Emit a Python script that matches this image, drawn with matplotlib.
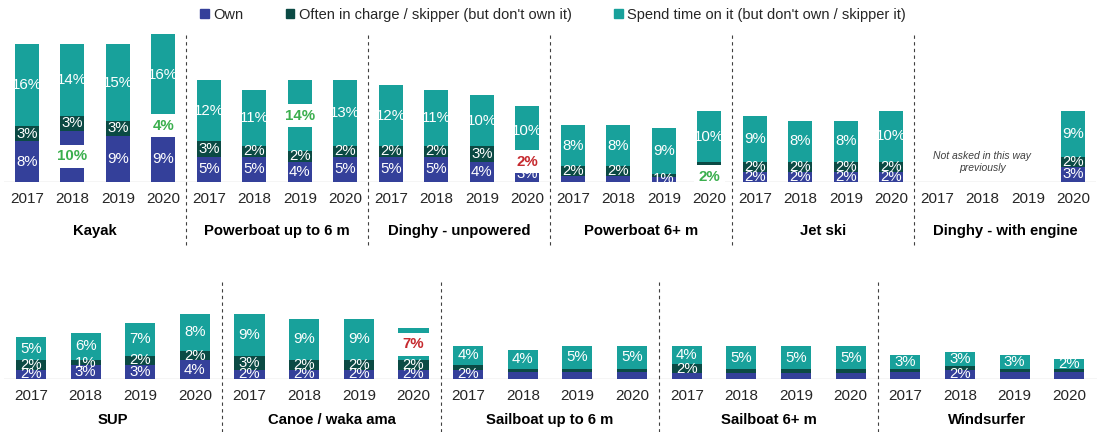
import matplotlib
matplotlib.use("Agg")
import matplotlib.pyplot as plt
from matplotlib.patches import Patch
import numpy as np

plt.rcParams["font.family"] = ["Liberation Sans", "DejaVu Sans"]

years = ["2017", "2018", "2019", "2020"]
series_names = ["Own", "Often in charge / skipper (but don't own it)",
                "Spend time on it (but don't own / skipper it)"]

# top row
top_groups = ["Kayak", "Powerboat up to 6 m", "Dinghy - unpowered",
              "Powerboat 6+ m", "Jet ski", "Dinghy - with engine"]
nan = np.nan
top_own = [8, 10, 9, 9, 5, 5, 4, 5, 5, 5, 4, 3, 1.1, 1.1, 1, 2, 2, 2, 2, 2, nan, nan, nan, 3]
top_often = [3, 3, 3, 4, 3, 2, 2, 2, 2, 2, 3, 2, 2, 2, 0.6, 1.9, 2, 2, 2, 2, nan, nan, nan, 2]
top_spend = [16, 14, 15, 16, 12, 11, 14, 13, 12, 11, 10, 10, 8, 8, 9, 10, 9, 8, 8, 10, nan, nan, nan, 9]

# bottom row
bot_groups = ["SUP", "Canoe / waka ama", "Sailboat up to 6 m", "Sailboat 6+ m", "Windsurfer"]
bot_own = [2, 3, 3, 4, 2, 2, 2, 2, 2, 1.6, 1.6, 1.6, 1.2, 1.2, 1.2, 1.2, 1.6, 2, 1.6, 1.6]
bot_often = [2, 1, 2, 2, 3, 2, 2, 2, 1.1, 0.6, 0.6, 0.6, 2, 0.9, 0.9, 0.9, 0.6, 0.9, 0.6, 0.6]
bot_spend = [5, 6, 7, 8, 9, 9, 9, 7, 4, 4, 5, 5, 4, 5, 5, 5, 3, 3, 3, 2]

# highlighted labels: (bar index, series index, colour)
GREEN = "#3BAF4E"
RED = "#C62A2F"
top_highlights = [(1, 0, GREEN), (3, 1, GREEN), (6, 2, GREEN), (11, 1, RED), (15, 0, GREEN)]
bot_highlights = [(7, 2, RED)]

colors = ["#34409A", "#0B4A44", "#18A19B"]


def draw_row(ax, groups, own, often, spend, highlights, width, name_offset):
    n = len(own)
    x = np.arange(n)
    own = np.array(own, float)
    often = np.array(often, float)
    spend = np.array(spend, float)
    bottoms = [np.zeros(n), own, own + often]
    hl = {(i, s): c for i, s, c in highlights}
    for s, vals in enumerate([own, often, spend]):
        ax.bar(x, vals, width, bottom=bottoms[s], color=colors[s], zorder=2)
        for i in range(n):
            v = vals[i]
            if np.isnan(v):
                continue
            yc = bottoms[s][i] + v / 2
            if (i, s) in hl:
                ax.text(i, yc, f"{v:.0f}%", ha="center", va="center", fontsize=10.8,
                        fontweight="bold", color=hl[(i, s)], zorder=5,
                        bbox=dict(boxstyle="square,pad=0.3", fc="white", ec="none"))
            elif v == round(v):
                ax.text(i, yc, f"{v:.0f}%", ha="center", va="center", fontsize=10.8,
                        color="white", zorder=3)
    ax.set_xlim(-0.5, n - 0.5)
    ax.set_xticks(x)
    ax.set_xticklabels(years * len(groups), fontsize=11, color="#262626")
    ax.tick_params(axis="x", length=0, pad=7.5)
    ax.set_yticks([])
    for sp in ax.spines.values():
        sp.set_visible(False)
    ax.axhline(0, color="#D0D0D0", lw=1, zorder=1)
    for g, name in enumerate(groups):
        ax.annotate(name, xy=(4 * g + 1.5, 0), xytext=(0, name_offset),
                    textcoords="offset points", ha="center", va="center",
                    fontsize=10.7, fontweight="bold", color="black")


fig = plt.figure(figsize=(10.97, 4.32), dpi=100)

# top row: baseline at 182 px, top at 32 px
ax1 = fig.add_axes([4 / 1097, 1 - 182 / 432, 1092 / 1097, 150 / 432])
draw_row(ax1, top_groups, top_own, top_often, top_spend, top_highlights, 0.53, -35)
ax1.set_ylim(0, 150 / 5.1)
for g in range(1, len(top_groups)):
    ax1.axvline(4 * g - 0.5, ymin=-0.42, ymax=1.0, color="#404040", lw=0.8,
                ls=(0, (3, 3)), clip_on=False)
ax1.text(21, 3.9, "Not asked in this way\npreviously", ha="center", va="center",
         fontsize=7.5, style="italic", color="#404040", linespacing=1.2)

# bottom row: baseline at 379 px, top at 280 px
ax2 = fig.add_axes([3.6 / 1097, 1 - 379 / 432, 1093 / 1097, 99 / 432])
draw_row(ax2, bot_groups, bot_own, bot_often, bot_spend, bot_highlights, 0.55, -29.5)
ax2.set_ylim(0, 99 / 4.65)
for g in range(1, len(bot_groups)):
    ax2.axvline(4 * g - 0.5, ymin=-0.54, ymax=1.0, color="#404040", lw=0.8,
                ls=(0, (3, 3)), clip_on=False)

handles = [Patch(color=c) for c in colors]
fig.legend(handles, series_names, loc="center", bbox_to_anchor=(0.504, 1 - 15 / 432),
           ncol=3, frameon=False, fontsize=10.5, handlelength=0.6, handleheight=0.6,
           handletextpad=0.3, columnspacing=2.9, labelcolor="#262626")

fig.savefig("out.png", dpi=100)
